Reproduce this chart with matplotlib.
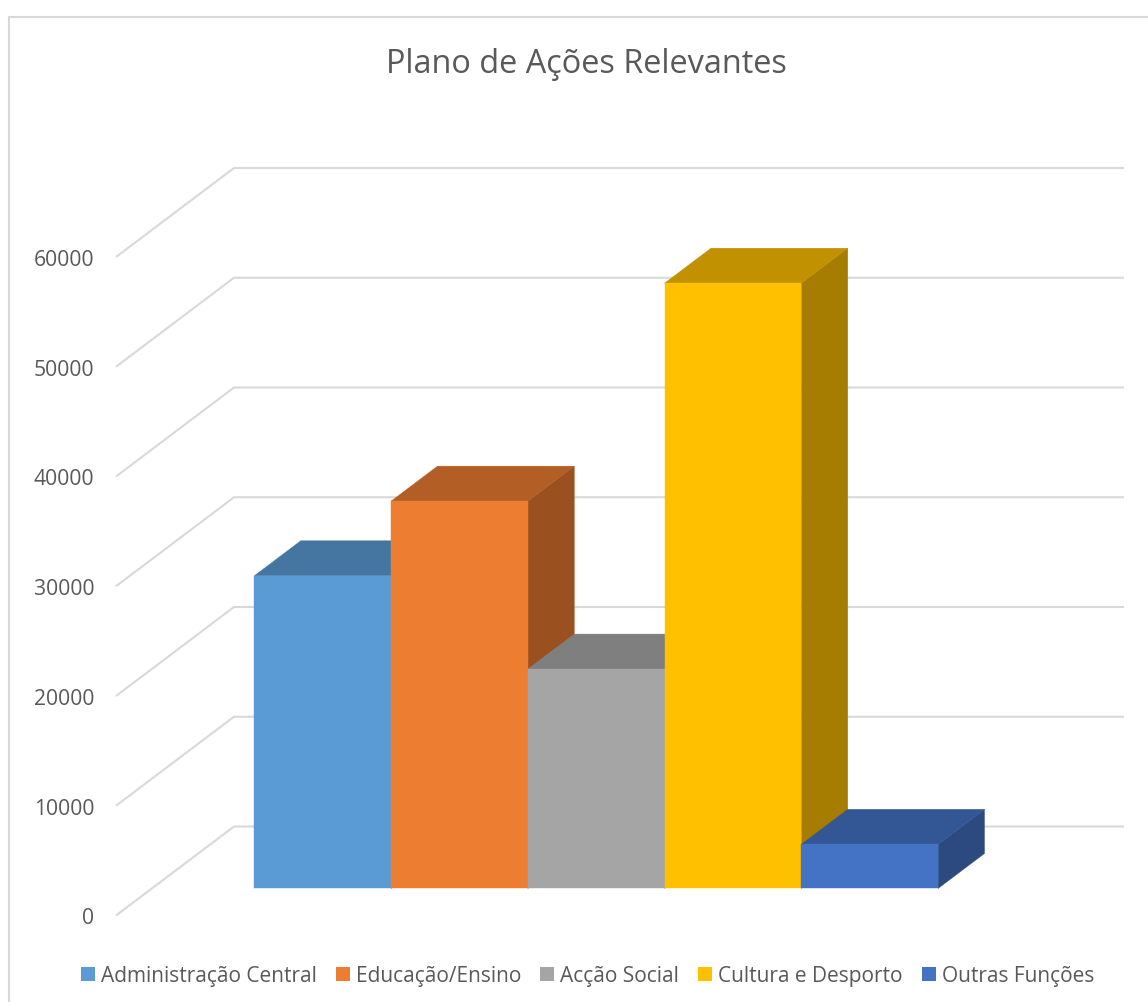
import matplotlib
matplotlib.use("Agg")
import matplotlib.pyplot as plt
import numpy as np
from matplotlib.patches import Patch, Polygon
from matplotlib.lines import Line2D

W, H = 1148, 1003
plt.rcParams['font.family'] = ['Open Sans', 'DejaVu Sans']

title = "Plano de Ações Relevantes"
categories = ["Administração Central", "Educação/Ensino", "Acção Social",
              "Cultura e Desporto", "Outras Funções"]
values = [28490, 35290, 19990, 55150, 4020]
y_ticks = [0, 10000, 20000, 30000, 40000, 50000, 60000]
front_colors = ["#5B9BD5", "#ED7D31", "#A5A5A5", "#FFC000", "#4472C4"]
top_colors = ["#4575A1", "#B35E25", "#7F7F7F", "#C19100", "#335694"]
side_colors = ["#3C6690", "#9A511F", "#6B6B6B", "#A67D00", "#2C4A80"]

TXT = "#595959"
GRID = "#D9D9D9"

# axes = front plane of the 3D box, in pixels
L, R, B, T = 116, 1006, 916.5, 258
SLOT_PX = 136.75
VAL_PX = (B - T) / 60000
DEPTH_DX = 118 / SLOT_PX      # wall depth in slots
DEPTH_DY = 89 / VAL_PX        # wall depth in value units
D0, D1 = 0.304, 0.697         # bar depth range

fig = plt.figure(figsize=(W / 100, H / 100), dpi=100, facecolor="white")
ax = fig.add_axes([L / W, 1 - B / H, (R - L) / W, (B - T) / H])
ax.set_xlim(-(218.5 - L) / SLOT_PX, (R - 218.5) / SLOT_PX)
ax.set_ylim(0, 60000)
for s in ax.spines.values():
    s.set_visible(False)
ax.patch.set_visible(False)
ax.set_xticks([])
ax.set_yticks(y_ticks)
ax.tick_params(axis="y", length=0, pad=15.6, labelsize=15.2, labelcolor=TXT)


def pt(x, v, d):
    return (x + d * DEPTH_DX, v + d * DEPTH_DY)


x0, x1 = ax.get_xlim()
for v in y_ticks:
    p = [pt(x0, v, 0), pt(x0, v, 1), pt(x1, v, 1)]
    ax.plot(*zip(*p), color=GRID, lw=1.5, clip_on=False, zorder=1,
            solid_joinstyle="miter", solid_capstyle="butt")

for i, v in enumerate(values):
    a, b = i, i + 1
    faces = [
        ([pt(b, 0, D0), pt(b, 0, D1), pt(b, v, D1), pt(b, v, D0)], side_colors[i]),
        ([pt(a, v, D0), pt(b, v, D0), pt(b, v, D1), pt(a, v, D1)], top_colors[i]),
        ([pt(a, 0, D0), pt(b, 0, D0), pt(b, v, D0), pt(a, v, D0)], front_colors[i]),
    ]
    for verts, c in faces:
        ax.add_patch(Polygon(verts, closed=True, facecolor=c, edgecolor=c, lw=0.3,
                             clip_on=False, zorder=2 + i))

# chart frame (left and top edges)
fig.add_artist(Line2D([8.5 / W, 8.5 / W, 1], [0, 1 - 18 / H, 1 - 18 / H],
                      color=GRID, lw=1.5, solid_joinstyle="miter"))

fig.text(586.5 / W, 1 - 64.5 / H, title, ha="center", va="center",
         fontsize=23.4, color=TXT)

handles = [Patch(facecolor=c, edgecolor="none") for c in front_colors]
fig.legend(handles, categories, loc="center", bbox_to_anchor=(587.5 / W, 1 - 976.5 / H),
           ncol=5, frameon=False, fontsize=15.0, labelcolor=TXT,
           handlelength=0.67, handleheight=0.67, handletextpad=0.29,
           columnspacing=0.91, borderpad=0, borderaxespad=0)

fig.savefig("out.png", dpi=100)
